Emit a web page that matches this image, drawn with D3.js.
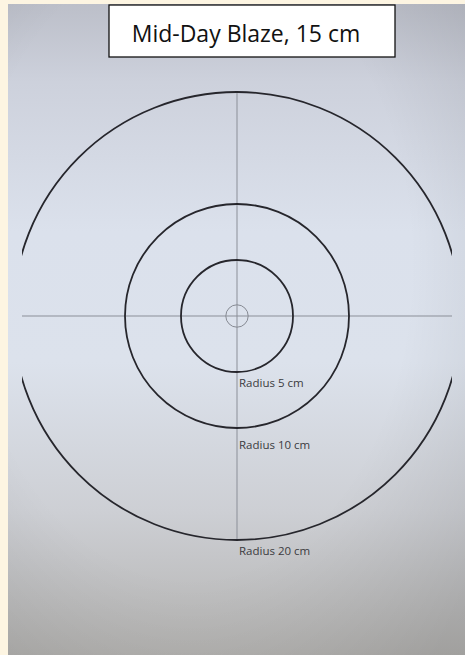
<!DOCTYPE html>
<html>
<head>
<meta charset="utf-8">
<script src="https://cdn.jsdelivr.net/npm/d3@7"></script>
<style>
  body { margin: 0; background: #fdf5e2; }
  svg { display: block; }
</style>
</head>
<body>
<div id="chart"></div>
<script>
// ring radii in cm, and which ones get a label
var radiiCm = [1, 5, 10, 20];
var ringLabels = ["", "Radius 5 cm", "Radius 10 cm", "Radius 20 cm"];
var title = "Mid-Day Blaze, 15 cm";

var W = 465, H = 655;
var cx = 237, cy = 316;

var svg = d3.select("#chart").append("svg")
  .attr("width", W)
  .attr("height", H);

var defs = svg.append("defs");

// photo background: greyish top, light middle, grey bottom
var lg = defs.append("linearGradient").attr("id", "paper")
  .attr("x1", 0).attr("y1", 0).attr("x2", 0).attr("y2", 1);
[[0, "#bcbfc9"], [0.12, "#cdd1dc"], [0.35, "#dbe1ec"], [0.55, "#dce2ec"],
 [0.78, "#cdcfd4"], [1, "#b3b2b0"]].forEach(function(s) {
  lg.append("stop").attr("offset", s[0]).attr("stop-color", s[1]);
});
var rg = defs.append("radialGradient").attr("id", "vignette")
  .attr("cx", 0.4).attr("cy", 0.4).attr("r", 0.8);
rg.append("stop").attr("offset", 0.6).attr("stop-color", "#000").attr("stop-opacity", 0);
rg.append("stop").attr("offset", 1).attr("stop-color", "#000").attr("stop-opacity", 0.1);

svg.append("rect").attr("x", 8).attr("y", 4).attr("width", W - 8).attr("height", H - 4)
  .attr("fill", "url(#paper)");
svg.append("rect").attr("x", 8).attr("y", 4).attr("width", W - 8).attr("height", H - 4)
  .attr("fill", "url(#vignette)");

// cm -> px
var r = d3.scaleLinear().domain([0, 20]).range([0, 224]);
var halfLine = 215;

defs.append("clipPath").attr("id", "clip")
  .append("rect")
  .attr("x", cx - halfLine).attr("y", 0)
  .attr("width", halfLine * 2).attr("height", H);

var g = svg.append("g");

// cross hairs
g.append("line")
  .attr("x1", cx - halfLine).attr("x2", cx + halfLine)
  .attr("y1", cy).attr("y2", cy)
  .attr("stroke", "#8b8f98").attr("stroke-width", 1);
g.append("line")
  .attr("x1", cx).attr("x2", cx)
  .attr("y1", cy - r(20)).attr("y2", cy + r(20))
  .attr("stroke", "#8b8f98").attr("stroke-width", 1);

// rings
g.append("g").attr("clip-path", "url(#clip)")
  .selectAll("circle")
  .data(radiiCm)
  .enter().append("circle")
    .attr("cx", cx)
    .attr("cy", cy)
    .attr("r", function(d) { return r(d); })
    .attr("fill", "none")
    .attr("stroke", function(d, i) { return i == 0 ? "#868a93" : "#26262c"; })
    .attr("stroke-width", function(d, i) { return i == 0 ? 1 : 1.8; });

// labels under each ring
g.selectAll(".ringLabel")
  .data(radiiCm.filter(function(d, i) { return ringLabels[i]; }))
  .enter().append("text")
    .attr("class", "ringLabel")
    .attr("x", cx + 2)
    .attr("y", function(d) { return cy + r(d) + (d == 10 ? 21 : 15); })
    .attr("font-family", "Open Sans, sans-serif")
    .attr("font-size", 11.5)
    .attr("fill", "#3b3b40")
    .text(function(d) { return ringLabels[radiiCm.indexOf(d)]; });

// title box
svg.append("rect")
  .attr("x", 109).attr("y", 5)
  .attr("width", 286).attr("height", 52)
  .attr("fill", "#fff")
  .attr("stroke", "#111").attr("stroke-width", 1.3);
svg.append("text")
  .attr("x", 246).attr("y", 42)
  .attr("text-anchor", "middle")
  .attr("font-family", "Open Sans, sans-serif")
  .attr("font-size", 23)
  .attr("fill", "#111")
  .text(title);
</script>
</body>
</html>
